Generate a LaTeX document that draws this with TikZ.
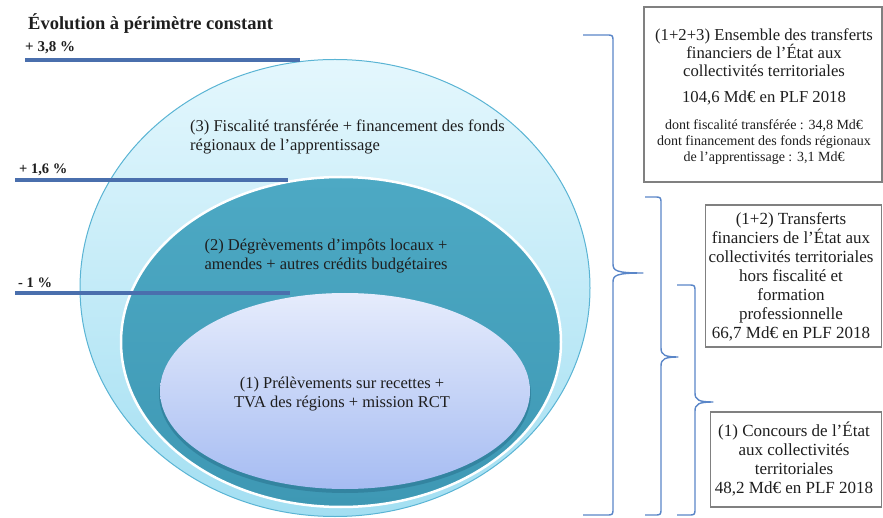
\documentclass[tikz,border=0pt]{standalone}
\usepackage{fontspec}
\setmainfont{Liberation Serif}
\usetikzlibrary{shapes.geometric}
\definecolor{barblue}{HTML}{4A6FAD}
\definecolor{bracecol}{HTML}{5A86C8}
\definecolor{outerTop}{HTML}{E4F7FD}
\definecolor{outerBot}{HTML}{A3DFF2}
\definecolor{outerLine}{HTML}{5AB4D4}
\definecolor{midTop}{HTML}{4DA9C4}
\definecolor{midBot}{HTML}{3E98B4}
\definecolor{innTop}{HTML}{E6ECFC}
\definecolor{innBot}{HTML}{A6BCF2}
\definecolor{shade}{HTML}{2E7C98}
\definecolor{txt}{HTML}{1E1E1E}
% #1 end x, #2 spine x, #3 tip x, #4 top y, #5 mid y, #6 bottom y
\newcommand{\mybracepath}[6]{%
  \draw[brc] (#1,#4) -- ({#2-7},#4) .. controls (#2,#4) .. (#2,{#4+7})
    -- (#2,{#5-9}) .. controls (#2,{#5-2}) and ({#2+4},#5) .. (#3,#5)
    .. controls ({#2+4},#5) and (#2,{#5+2}) .. (#2,{#5+9})
    -- (#2,{#6-7}) .. controls (#2,#6) .. ({#2-7},#6) -- (#1,#6);}
\begin{document}
\begin{tikzpicture}[x=1pt,y=-1pt,
  bar/.style={line width=3.5pt, draw=barblue},
  brc/.style={draw=bracecol, line width=1.4pt, line join=round},
  framebox/.style={draw=black!50, line width=1.1pt, fill=white, inner sep=0pt},
  ell/.style={ellipse, inner sep=0pt},
  lbl/.style={text=txt, inner sep=0pt},
  pct/.style={text=txt, inner sep=0pt, anchor=west, font=\bfseries\fontsize{15}{17}\selectfont},
  etext/.style={text=txt, inner sep=0pt, font=\fontsize{16.5}{18.5}\selectfont},
  btext/.style={text=txt, inner sep=0pt, align=center, font=\fontsize{17}{19}\selectfont}
]
\useasboundingbox (0,0) rectangle (883,518);

% ellipses
\node[ell, minimum width=510pt, minimum height=457pt, top color=outerTop, bottom color=outerBot, draw=outerLine, line width=1pt] (e3) at (335,288) {};
\node[ell, minimum width=440pt, minimum height=330pt, top color=midTop, bottom color=midBot, draw=white, line width=2.5pt] (e2) at (341,342) {};
\node[ell, minimum width=372pt, minimum height=198pt, fill=shade, opacity=0.7] (e1s) at (345,394) {};
\node[ell, minimum width=370pt, minimum height=196pt, top color=innTop, bottom color=innBot] (e1) at (345,391) {};

% ellipse texts
\node[etext, anchor=west, align=left] (t3) at (190,137) {(3) Fiscalité transférée + financement des fonds\\régionaux de l’apprentissage};
\node[etext, align=center] (t2) at (326,256) {(2) Dégrèvements d’impôts locaux +\\amendes + autres crédits budgétaires};
\node[etext, align=center] (t1) at (342,394) {(1) Prélèvements sur recettes +\\TVA des régions + mission RCT};

% title and percentages
\node[lbl, anchor=west, font=\bfseries\fontsize{18.5}{21}\selectfont] (title) at (28,24) {Évolution à périmètre constant};
\node[pct] (p1) at (25,48) {+ 3,8 \%};
\node[pct, font=\bfseries\fontsize{14.5}{16}\selectfont] (p2) at (19,170) {+ 1,6 \%};
\node[pct, font=\bfseries\fontsize{14.5}{16}\selectfont] (p3) at (18,283) {- 1 \%};

% bars
\coordinate (b1a) at (25,60);  \coordinate (b1b) at (300,60);
\coordinate (b2a) at (15,180); \coordinate (b2b) at (288,180);
\coordinate (b3a) at (15,293); \coordinate (b3b) at (290,293);
\draw[bar] (b1a) -- (b1b);
\draw[bar] (b2a) -- (b2b);
\draw[bar] (b3a) -- (b3b);

% braces
\mybracepath{583}{613}{643}{35}{273}{515}
\mybracepath{645}{661}{678}{197}{357}{515}
\mybracepath{677}{695}{713}{285}{402}{515}

% boxes
\node[framebox, minimum width=238pt, minimum height=175pt] (box1) at (763,94.5) {};
\node[btext, font=\fontsize{16.7}{18}\selectfont] (box1a) at (764,53) {(1+2+3) Ensemble des transferts\\financiers de l’État aux\\collectivités territoriales};
\node[btext, font=\fontsize{16.7}{18}\selectfont] (box1b) at (764,98) {104,6 Md€ en PLF 2018};
\node[btext, font=\fontsize{14}{16}\selectfont] (box1c) at (764,142) {dont fiscalité transférée : 34,8 Md€\\dont financement des fonds régionaux\\de l’apprentissage : 3,1 Md€};

\node[framebox, minimum width=176pt, minimum height=142pt] (box2) at (793.5,276) {};
\node[btext] (box2t) at (791,277) {(1+2) Transferts\\financiers de l’État aux\\collectivités territoriales\\hors fiscalité et\\formation\\professionnelle\\66,7 Md€ en PLF 2018};

\node[framebox, minimum width=171pt, minimum height=95pt] (box3) at (796,459.5) {};
\node[btext] (box3t) at (794,459) {(1) Concours de l’État\\aux collectivités\\territoriales\\48,2 Md€ en PLF 2018};
\end{tikzpicture}
\end{document}
